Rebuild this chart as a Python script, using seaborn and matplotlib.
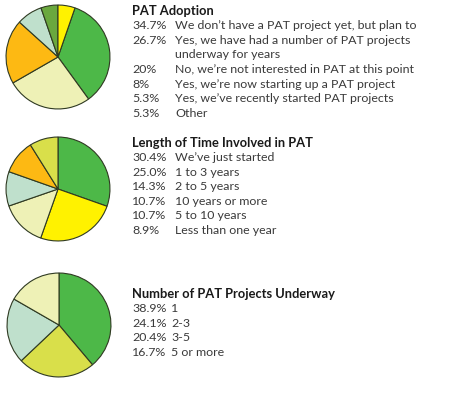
import matplotlib
matplotlib.use("Agg")
import matplotlib.pyplot as plt
import seaborn as sns

# PAT Adoption
adoption_pct = [34.7, 26.7, 20, 8, 5.3, 5.3]
adoption_pct_text = ["34.7%", "26.7%", "20%", "8%", "5.3%", "5.3%"]
adoption_labels = [
    "We don\u2019t have a PAT project yet, but plan to",
    "Yes, we have had a number of PAT projects\nunderway for years",
    "No, we\u2019re not interested in PAT at this point",
    "Yes, we\u2019re now starting up a PAT project",
    "Yes, we\u2019ve recently started PAT projects",
    "Other",
]
adoption_colors = ["#4db848", "#eef1b6", "#fdb913", "#bfe0cc", "#6aa83e", "#fff200"]

# Length of time involved
length_pct = [30.4, 25.0, 14.3, 10.7, 10.7, 8.9]
length_pct_text = ["30.4%", "25.0%", "14.3%", "10.7%", "10.7%", "8.9%"]
length_labels = ["We\u2019ve just started", "1 to 3 years", "2 to 5 years",
                 "10 years or more", "5 to 10 years", "Less than one year"]
length_colors = ["#4db848", "#fff200", "#eef1b6", "#bfe0cc", "#fdb913", "#d9df4a"]

# Number of projects underway
number_pct = [38.9, 24.1, 20.4, 16.7]
number_pct_text = ["38.9%", "24.1%", "20.4%", "16.7%"]
number_labels = ["1", "2-3", "3-5", "5 or more"]
number_colors = ["#4db848", "#d9df4a", "#bfe0cc", "#eef1b6"]

sns.set_theme(style="white")
plt.rcParams["font.family"] = ["Lato", "DejaVu Sans"]

W, H = 466, 395
fig = plt.figure(figsize=(W / 100, H / 100), dpi=100)
fig.patch.set_facecolor("white")


def draw_pie(cx, cy, r, values, colors, start):
    ax = fig.add_axes([(cx - r) / W, 1 - (cy + r) / H, 2 * r / W, 2 * r / H])
    ax.pie(values, colors=colors, startangle=start, counterclock=False,
           wedgeprops=dict(edgecolor="#2f3a22", linewidth=0.8))
    ax.set_xlim(-1.02, 1.02)
    ax.set_ylim(-1.02, 1.02)
    ax.set_aspect("equal")
    ax.axis("off")


def draw_text(x0, xl, ytitle, title, pcts, labels, step=14.6):
    fig.text(x0 / W, 1 - ytitle / H, title, fontsize=9.3, fontweight="bold",
             color="#1a1a1a", va="center", ha="left")
    y = ytitle + step
    for p, lab in zip(pcts, labels):
        fig.text(x0 / W, 1 - y / H, p, fontsize=8.9, color="#3a3a3a",
                 va="center", ha="left")
        for k, line in enumerate(lab.split("\n")):
            fig.text(xl / W, 1 - (y + k * step) / H, line, fontsize=8.9,
                     color="#3a3a3a", va="center", ha="left")
        y += step * len(lab.split("\n"))


draw_pie(58, 57, 53, adoption_pct, adoption_colors, 90 - 5.3 * 3.6)
draw_pie(58, 189, 53, length_pct, length_colors, 90)
draw_pie(59, 325, 53, number_pct, number_colors, 90)

draw_text(132, 175, 11, "PAT Adoption", adoption_pct_text, adoption_labels)
draw_text(132, 175, 143, "Length of Time Involved in PAT", length_pct_text, length_labels)
draw_text(132, 171, 294, "Number of PAT Projects Underway", number_pct_text, number_labels)

fig.savefig("out.png", dpi=100, facecolor="white")
